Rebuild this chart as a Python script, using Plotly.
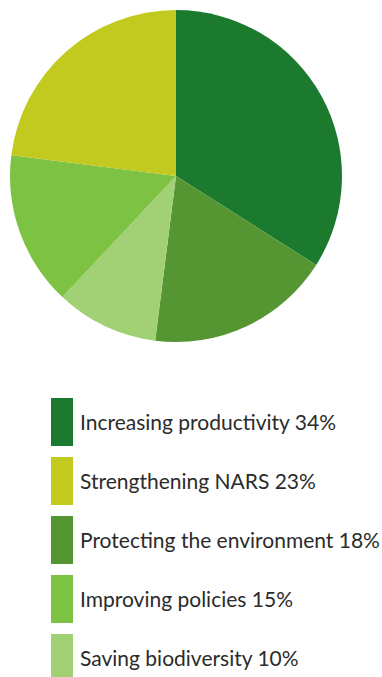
import plotly.graph_objects as go

# Research priorities, share of total (%)
labels = [
    "Increasing productivity",
    "Protecting the environment",
    "Saving biodiversity",
    "Improving policies",
    "Strengthening NARS",
]
values = [34, 18, 10, 15, 23]
colors = ["#1c7a2f", "#559633", "#a2d074", "#7dc242", "#c2ca1f"]

# Order of entries in the key below the pie
legend_order = [
    "Increasing productivity",
    "Strengthening NARS",
    "Protecting the environment",
    "Improving policies",
    "Saving biodiversity",
]

W, H = 382, 677

fig = go.Figure(
    go.Pie(
        labels=labels,
        values=values,
        marker=dict(colors=colors, line=dict(width=0)),
        sort=False,
        direction="clockwise",
        rotation=0,
        textinfo="none",
        hoverinfo="label+percent",
        showlegend=False,
        domain=dict(x=[(176 - 166) / W, (176 + 166) / W],
                    y=[1 - 342 / H, 1 - 10 / H]),
    )
)

# Key: coloured block plus label for each category
shapes, annotations = [], []
top0, step, bh = 398, 59, 48
for i, name in enumerate(legend_order):
    k = labels.index(name)
    y0 = top0 + i * step
    shapes.append(dict(
        type="rect", xref="paper", yref="paper",
        x0=51 / W, x1=73 / W, y0=1 - (y0 + bh) / H, y1=1 - y0 / H,
        fillcolor=colors[k], line=dict(width=0), layer="above",
    ))
    annotations.append(dict(
        xref="paper", yref="paper", x=78 / W, y=1 - (y0 + bh / 2 - 1) / H,
        xanchor="left", yanchor="middle", showarrow=False,
        text=f"{name} {values[k]}%",
        font=dict(size=21, color="#2b2b2b", family="Lato, sans-serif"),
    ))

fig.update_layout(
    width=W, height=H,
    margin=dict(l=0, r=0, t=0, b=0),
    paper_bgcolor="white", plot_bgcolor="white",
    shapes=shapes, annotations=annotations,
)

fig.write_html("out.html")
